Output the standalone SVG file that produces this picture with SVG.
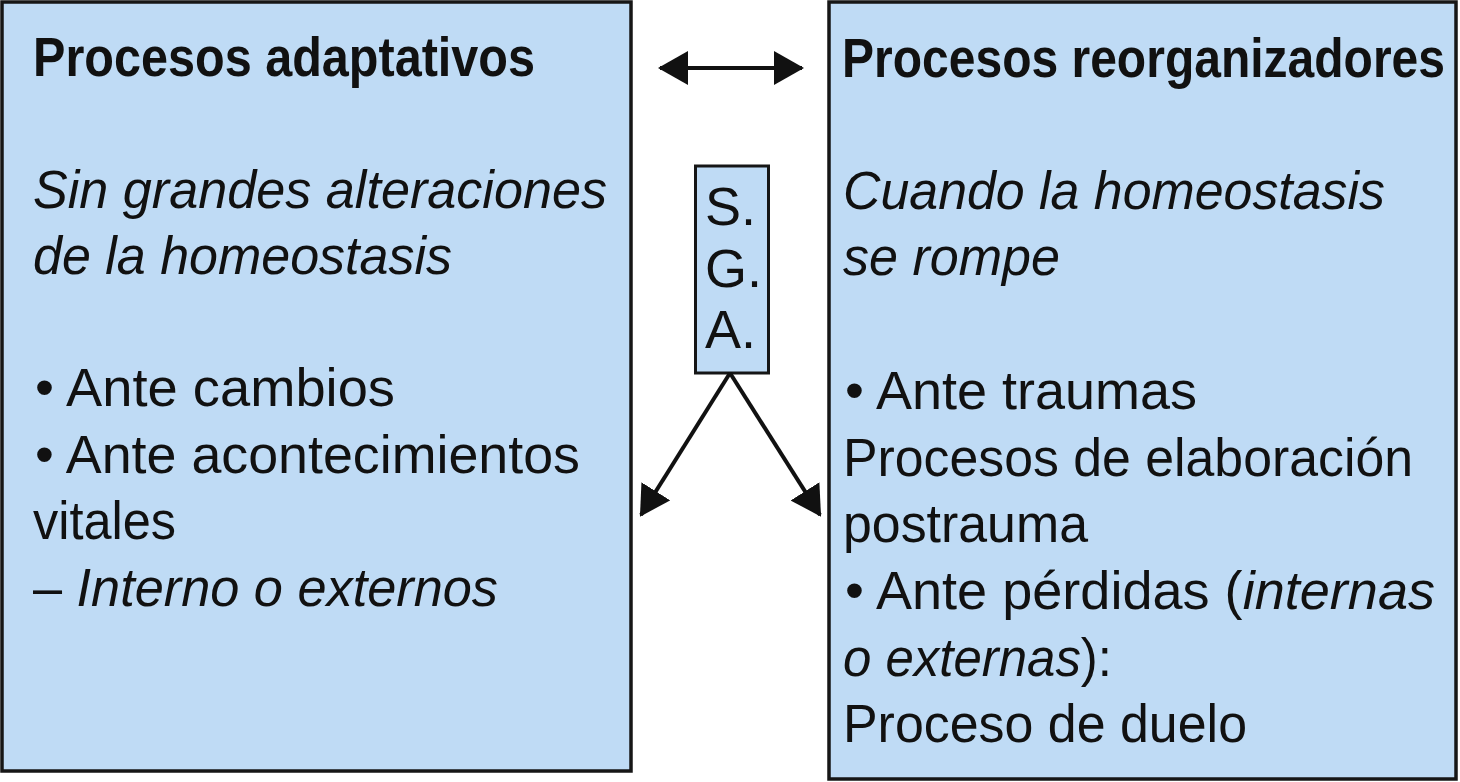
<svg xmlns="http://www.w3.org/2000/svg" width="1460" height="782" viewBox="0 0 1460 782">
<style>
.box{fill:#BFDBF5;stroke:#161616;stroke-width:3.5}
.t{font-family:"Liberation Sans",Arial,sans-serif;font-size:54px;fill:#111}
.b{font-weight:bold;font-size:56px}
.i{font-style:italic}
.ln{stroke:#111;stroke-width:4;fill:none}
</style>
<defs>
<marker id="ah2" viewBox="0 0 30 34" refX="28" refY="17" markerWidth="30" markerHeight="34" orient="auto-start-reverse" markerUnits="userSpaceOnUse">
<path d="M0,0 L30,17 L0,34 Z" fill="#111"/>
</marker>
</defs>
<g id="adaptativos">
<rect class="box" x="2" y="2" width="629" height="769"/>
<text class="t b" x="33" y="76" textLength="502" lengthAdjust="spacingAndGlyphs">Procesos adaptativos</text>
<text class="t i" x="33" y="208" textLength="574" lengthAdjust="spacingAndGlyphs">Sin grandes alteraciones</text>
<text class="t i" x="33" y="274" textLength="419" lengthAdjust="spacingAndGlyphs">de la homeostasis</text>
<text class="t" x="35" y="406" textLength="360" lengthAdjust="spacingAndGlyphs">• Ante cambios</text>
<text class="t" x="35" y="473" textLength="545" lengthAdjust="spacingAndGlyphs">• Ante acontecimientos</text>
<text class="t" x="33" y="539" textLength="143" lengthAdjust="spacingAndGlyphs">vitales</text>
<text class="t" x="33" y="606" textLength="465" lengthAdjust="spacingAndGlyphs">– <tspan class="i">Interno o externos</tspan></text>
</g>
<g id="reorganizadores">
<rect class="box" x="829" y="2" width="627" height="777"/>
<text class="t b" x="842" y="77" textLength="603" lengthAdjust="spacingAndGlyphs">Procesos reorganizadores</text>
<text class="t i" x="843" y="209" textLength="542" lengthAdjust="spacingAndGlyphs">Cuando la homeostasis</text>
<text class="t i" x="843" y="275" textLength="217" lengthAdjust="spacingAndGlyphs">se rompe</text>
<text class="t" x="845" y="409" textLength="352" lengthAdjust="spacingAndGlyphs">• Ante traumas</text>
<text class="t" x="843" y="476" textLength="570" lengthAdjust="spacingAndGlyphs">Procesos de elaboración</text>
<text class="t" x="843" y="542" textLength="245" lengthAdjust="spacingAndGlyphs">postrauma</text>
<text class="t" x="845" y="609" textLength="590" lengthAdjust="spacingAndGlyphs">• Ante pérdidas (<tspan class="i">internas</tspan></text>
<text class="t" x="843" y="676" textLength="269" lengthAdjust="spacingAndGlyphs"><tspan class="i">o externas</tspan>):</text>
<text class="t" x="843" y="742" textLength="404" lengthAdjust="spacingAndGlyphs">Proceso de duelo</text>
</g>
<g id="sga">
<rect x="695.5" y="166" width="73" height="207" fill="#BFDBF5" stroke="#161616" stroke-width="3"/>
<text class="t" x="705" y="225">S.</text>
<text class="t" x="705" y="287">G.</text>
<text class="t" x="705" y="348">A.</text>
</g>
<g id="connectors">
<line class="ln" x1="660" y1="68" x2="802" y2="68" marker-start="url(#ah2)" marker-end="url(#ah2)"/>
<line class="ln" x1="730" y1="373" x2="641" y2="515" marker-end="url(#ah2)"/>
<line class="ln" x1="730" y1="373" x2="820" y2="515" marker-end="url(#ah2)"/>
</g>
</svg>
